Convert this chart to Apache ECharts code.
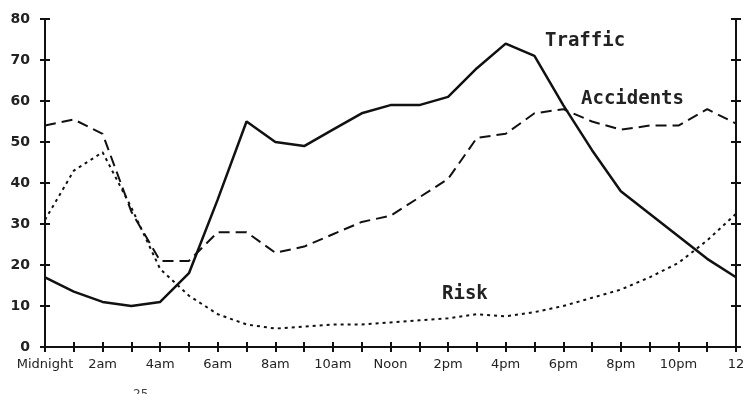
<!DOCTYPE html>
<html>
<head>
<meta charset="utf-8">
<script src="https://cdn.jsdelivr.net/npm/echarts@6/dist/echarts.min.js"></script>
<style>
  html, body { margin: 0; padding: 0; background: #fff; }
  #main { width: 748px; height: 394px; }
</style>
</head>
<body>
<div id="main"></div>
<script>
// hours of the day, labelled every 2 hours
var hours = ['Midnight', '1am', '2am', '3am', '4am', '5am', '6am', '7am', '8am', '9am', '10am', '11am',
  'Noon', '1pm', '2pm', '3pm', '4pm', '5pm', '6pm', '7pm', '8pm', '9pm', '10pm', '11pm', '12'];

var traffic = [17, 13.5, 11, 10, 11, 18, 36, 55, 50, 49, 53, 57, 59, 59, 61, 68, 74, 71, 59, 48, 38, 32.5, 27, 21.5, 17];
var accidents = [54, 55.5, 52, 33, 21, 21, 28, 28, 23, 24.5, 27.5, 30.5, 32, 36.5, 41, 51, 52, 57, 58, 55, 53, 54, 54, 58, 54.5];
var risk = [31, 43, 47.5, 34, 19, 12.5, 8, 5.5, 4.5, 5, 5.5, 5.5, 6, 6.5, 7, 8, 7.5, 8.5, 10, 12, 14, 17, 20.5, 26, 32.5];

var yTicks = [0, 10, 20, 30, 40, 50, 60, 70, 80];

var ink = '#111';
var chart = echarts.init(document.getElementById('main'));

function yAx(pos, inside, showLabel) {
  return {
    type: 'value', position: pos, min: yTicks[0], max: yTicks[yTicks.length - 1], interval: 10,
    axisLine: { show: true, lineStyle: { color: ink, width: 2 } },
    axisTick: { show: true, inside: inside, length: 5, lineStyle: { color: ink, width: 2 } },
    axisLabel: { show: showLabel, margin: 15, color: '#222', fontFamily: 'DejaVu Sans', fontWeight: 'bold', fontSize: 14 },
    splitLine: { show: false }
  };
}

function xAx(inside, showLabel) {
  return {
    type: 'category', position: 'bottom', data: hours, boundaryGap: false,
    axisLine: { show: true, lineStyle: { color: ink, width: 2 } },
    axisTick: { show: true, inside: inside, interval: 0, length: 5, lineStyle: { color: ink, width: 2 } },
    axisLabel: { show: showLabel, interval: 1, margin: 11, color: '#222', fontFamily: 'DejaVu Sans', fontSize: 13 },
    splitLine: { show: false }
  };
}

chart.setOption({
  animation: false,
  backgroundColor: '#fff',
  grid: { left: 45, right: 12, top: 19, bottom: 47 },
  xAxis: [xAx(false, true), xAx(true, false)],
  yAxis: [yAx('left', false, true), yAx('left', true, false), yAx('right', false, false), yAx('right', true, false)],
  series: [
    { name: 'Traffic', type: 'line', data: traffic, symbol: 'none',
      lineStyle: { color: ink, width: 2.5 } },
    { name: 'Accidents', type: 'line', data: accidents, symbol: 'none',
      lineStyle: { color: ink, width: 2, type: [11, 6] } },
    { name: 'Risk', type: 'line', data: risk, symbol: 'none',
      lineStyle: { color: ink, width: 2, type: [3, 4] } }
  ],
  graphic: [
    { type: 'text', left: 545, top: 32, style: { text: 'Traffic', fill: '#222', font: 'bold 19px "DejaVu Sans Mono"' } },
    { type: 'text', left: 581, top: 90, style: { text: 'Accidents', fill: '#222', font: 'bold 19px "DejaVu Sans Mono"' } },
    { type: 'text', left: 442, top: 285, style: { text: 'Risk', fill: '#222', font: 'bold 19px "DejaVu Sans Mono"' } },
    { type: 'text', left: 133, top: 389, style: { text: '25', fill: '#444', font: '12px "DejaVu Sans"' } }
  ]
});
</script>
</body>
</html>
